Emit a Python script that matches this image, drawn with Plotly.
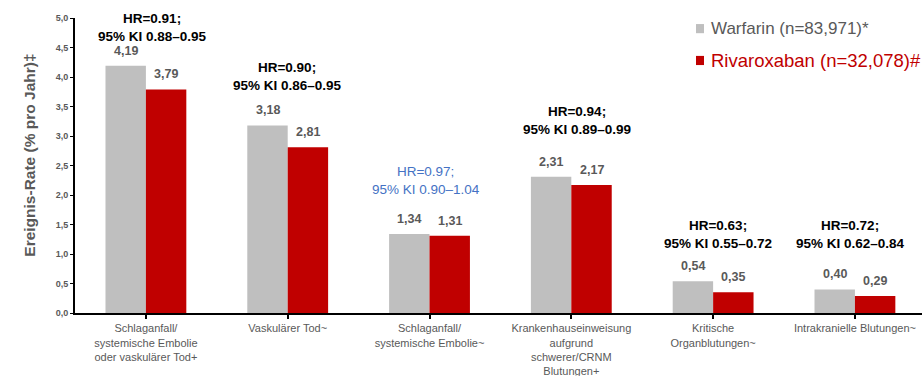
import plotly.graph_objects as go

# --- data -----------------------------------------------------------------
categories = [
    "Schlaganfall/<br>systemische Embolie<br>oder vaskulärer Tod+",
    "Vaskulärer Tod~",
    "Schlaganfall/<br>systemische Embolie~",
    "Krankenhauseinweisung<br>aufgrund<br>schwerer/CRNM<br>Blutungen+",
    "Kritische<br>Organblutungen~",
    "Intrakranielle Blutungen~",
]
warfarin = [4.19, 3.18, 1.34, 2.31, 0.54, 0.40]
rivaroxaban = [3.79, 2.81, 1.31, 2.17, 0.35, 0.29]
hr_values = ["0.91", "0.90", "0.97", "0.94", "0.63", "0.72"]
ci_values = ["0.88–0.95", "0.86–0.95", "0.90–1.04", "0.89–0.99", "0.55–0.72", "0.62–0.84"]
hr_significant = [True, True, False, True, True, True]

name_warfarin = "Warfarin (n=83,971)*"
name_rivaroxaban = "Rivaroxaban (n=32,078)#"
y_title = "Ereignis-Rate (% pro Jahr)‡"

# --- styling --------------------------------------------------------------
FONT = "Liberation Sans, Arial, sans-serif"
GRAY_BAR = "#BFBFBF"
RED = "#C00000"
TEXT_GRAY = "#595959"
BLUE = "#4472C4"
BARGAP = 0.43

# HR label placement (data y of the label block centre, pixel x nudge)
hr_label_y = [4.84, 4.01, 2.24, 3.27, 1.33, 1.33]
hr_label_xshift = [7, 0, -4, 6, 5, -4]

xs = list(range(len(categories)))

fig = go.Figure()
fig.add_trace(go.Bar(x=xs, y=warfarin, name=name_warfarin,
                     marker=dict(color=GRAY_BAR, line=dict(width=0))))
fig.add_trace(go.Bar(x=xs, y=rivaroxaban, name=name_rivaroxaban,
                     marker=dict(color=RED, line=dict(width=0))))

# value labels above each bar
half = (1 - BARGAP) / 4  # centre offset of each bar inside a group
annotations = []
for i in xs:
    for val, off in ((warfarin[i], -half), (rivaroxaban[i], half)):
        annotations.append(dict(
            x=i + off, y=val, xref="x", yref="y",
            text=f"{val:.2f}".replace(".", ","),
            showarrow=False, yanchor="bottom", yshift=6,
            font=dict(family=FONT, size=12.5, color=TEXT_GRAY, weight="bold"),
        ))

# hazard ratio labels
for i in xs:
    sig = hr_significant[i]
    annotations.append(dict(
        x=i, y=hr_label_y[i], xref="x", yref="y", xshift=hr_label_xshift[i],
        text=f"HR={hr_values[i]};<br>95% KI {ci_values[i]}",
        showarrow=False, yanchor="middle", align="center",
        font=dict(family=FONT, size=13.5,
                  color="#000000" if sig else BLUE,
                  weight="bold" if sig else "normal"),
    ))

# y-axis title
annotations.append(dict(
    x=-0.0661, y=0.535, xref="paper", yref="paper", textangle=-90,
    text=y_title, showarrow=False,
    font=dict(family=FONT, size=15.5, color=TEXT_GRAY, weight="bold"),
))

# legend entries
legend_items = [(name_warfarin, GRAY_BAR, TEXT_GRAY, 0.964, 17),
                (name_rivaroxaban, RED, RED, 0.856, 18.5)]
shapes = []
for label, swatch, txt_color, ly, size in legend_items:
    shapes.append(dict(type="rect", xref="paper", yref="paper",
                       x0=0.7332, x1=0.7426, y0=ly - 0.0155, y1=ly + 0.0155,
                       fillcolor=swatch, line=dict(width=0)))
    annotations.append(dict(
        x=0.7485, y=ly, xref="paper", yref="paper", xanchor="left",
        yanchor="middle", text=label, showarrow=False,
        font=dict(family=FONT, size=size, color=txt_color),
    ))

fig.update_layout(
    width=922, height=376,
    margin=dict(l=75, r=0, t=18, b=63),
    paper_bgcolor="white", plot_bgcolor="white",
    barmode="group", bargap=BARGAP, bargroupgap=0,
    showlegend=False,
    separators=",.",
    font=dict(family=FONT, color=TEXT_GRAY),
    annotations=annotations, shapes=shapes,
)
fig.update_xaxes(
    tickmode="array", tickvals=xs, ticktext=categories, tickangle=0,
    range=[-0.5, 5.473], showline=True, linecolor="black", linewidth=2,
    ticks="outside", tickson="boundaries", ticklen=4, tickcolor="black",
    tickwidth=1.5, showgrid=False, zeroline=False, automargin=False,
    tickfont=dict(family=FONT, size=11, color=TEXT_GRAY),
)
fig.update_yaxes(
    range=[0, 5], dtick=0.5, tickformat=".1f", showline=True,
    linecolor="black", linewidth=2, ticks="outside", ticklen=3,
    tickcolor="black", tickwidth=1, showgrid=False, zeroline=False,
    automargin=False,
    tickfont=dict(family=FONT, size=9, color=TEXT_GRAY, weight="bold"),
)

fig.write_html("out.html")
